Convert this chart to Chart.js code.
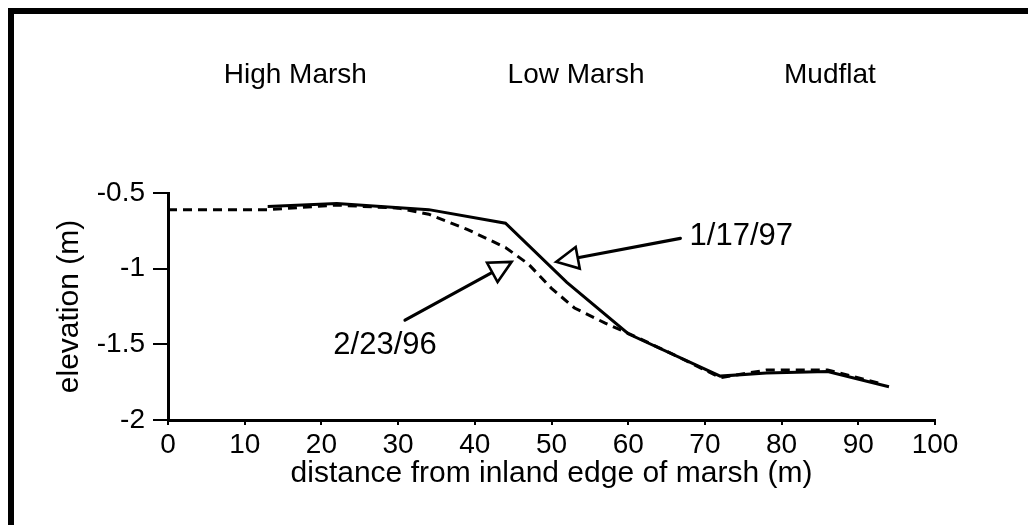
<!DOCTYPE html>
<html>
<head>
<meta charset="utf-8">
<script src="https://cdn.jsdelivr.net/npm/chart.js@4.4.0/dist/chart.umd.min.js"></script>
<style>
  html, body { margin: 0; padding: 0; background: #fff; }
  #wrap { width: 1028px; height: 525px; position: relative; }
</style>
</head>
<body>
<div id="wrap"><canvas id="profile"></canvas></div>
<script>
// Marsh elevation profile surveys
const distance97  = [13, 22, 34, 44, 52, 60, 72, 78, 86, 94];
const elevation97 = [-0.59, -0.57, -0.61, -0.70, -1.09, -1.43, -1.71, -1.69, -1.68, -1.78];

const distance96  = [0, 13, 22, 30, 34, 39, 44, 47, 50, 53, 57, 61, 66, 72, 78, 86, 93];
const elevation96 = [-0.61, -0.61, -0.58, -0.60, -0.64, -0.74, -0.86, -0.97, -1.13, -1.26, -1.36, -1.45, -1.57, -1.72, -1.67, -1.67, -1.76];

const seriesNames = ['1/17/97', '2/23/96'];
const zoneNames   = ['High Marsh', 'Low Marsh', 'Mudflat'];
const zoneCenters = [16.6, 53.2, 86.3];

const xTickValues = [0, 10, 20, 30, 40, 50, 60, 70, 80, 90, 100];
const yTickValues = [-2, -1.5, -1, -0.5];

const FONT = '"Liberation Sans", Arial, Helvetica, sans-serif';
const TICK_FS = 28, TITLE_FS = 30, NOTE_FS = 31, ZONE_FS = 28;

const toPoints = (xs, ys) => xs.map((x, i) => ({ x, y: ys[i] }));

// Callout arrows: tail and tip in data units, label anchor in data units
const callouts = [
  { text: seriesNames[0], tail: [66.8, -0.80], tip: [50.6, -0.955], label: [68.0, -0.79], align: 'left' },
  { text: seriesNames[1], tail: [30.9, -1.34], tip: [44.8, -0.955], label: [28.3, -1.51], align: 'center' }
];

const decorPlugin = {
  id: 'decor',
  afterDraw(chart) {
    const ctx = chart.ctx;
    const xs = chart.scales.x, ys = chart.scales.y;
    ctx.save();
    // frame edges
    ctx.fillStyle = '#000';
    ctx.fillRect(8, 8, 1020, 6);
    ctx.fillRect(8, 8, 6, 517);

    // zone labels
    ctx.font = ZONE_FS + 'px ' + FONT;
    ctx.textAlign = 'center';
    ctx.textBaseline = 'middle';
    zoneNames.forEach((n, i) => {
      ctx.fillText(n, xs.getPixelForValue(zoneCenters[i]), chart.chartArea.top - 118);
    });

    // callouts
    ctx.font = NOTE_FS + 'px ' + FONT;
    callouts.forEach(c => {
      const tx = xs.getPixelForValue(c.tail[0]), ty = ys.getPixelForValue(c.tail[1]);
      const px = xs.getPixelForValue(c.tip[0]),  py = ys.getPixelForValue(c.tip[1]);
      const ang = Math.atan2(py - ty, px - tx);
      const headLen = 22, headHalf = 11;
      const bx = px - headLen * Math.cos(ang), by = py - headLen * Math.sin(ang);
      ctx.strokeStyle = '#000';
      ctx.lineWidth = 3.2;
      ctx.lineCap = 'round';
      ctx.beginPath();
      ctx.moveTo(tx, ty);
      ctx.lineTo(bx, by);
      ctx.stroke();
      ctx.beginPath();
      ctx.moveTo(px, py);
      ctx.lineTo(bx + headHalf * Math.sin(ang), by - headHalf * Math.cos(ang));
      ctx.lineTo(bx - headHalf * Math.sin(ang), by + headHalf * Math.cos(ang));
      ctx.closePath();
      ctx.fillStyle = '#fff';
      ctx.fill();
      ctx.lineWidth = 2.6;
      ctx.lineJoin = 'miter';
      ctx.stroke();
      ctx.fillStyle = '#000';
      ctx.textAlign = c.align;
      ctx.fillText(c.text, xs.getPixelForValue(c.label[0]), ys.getPixelForValue(c.label[1]));
    });
    ctx.restore();
  }
};

new Chart(document.getElementById('profile'), {
  type: 'scatter',
  data: {
    datasets: [
      {
        label: seriesNames[0],
        data: toPoints(distance97, elevation97),
        showLine: true,
        borderColor: '#000',
        borderWidth: 3,
        pointRadius: 0,
        tension: 0
      },
      {
        label: seriesNames[1],
        data: toPoints(distance96, elevation96),
        showLine: true,
        borderColor: '#000',
        borderWidth: 3,
        borderDash: [9, 6],
        pointRadius: 0,
        tension: 0
      }
    ]
  },
  options: {
    responsive: true,
    maintainAspectRatio: false,
    devicePixelRatio: 1,
    animation: false,
    layout: { padding: { top: 193, right: 93, left: 0, bottom: 0 } },
    plugins: { legend: { display: false }, tooltip: { enabled: false } },
    scales: {
      x: {
        type: 'linear',
        min: 0, max: 100,
        afterFit(s) { s.height = 105; },
        afterBuildTicks(s) { s.ticks = xTickValues.map(v => ({ value: v })); },
        border: { display: true, color: '#000', width: 3 },
        grid: { drawOnChartArea: false, drawTicks: true, tickLength: 5, color: '#000', lineWidth: 2 },
        ticks: { color: '#000', padding: 3, font: { family: FONT, size: TICK_FS } },
        title: { display: true, text: 'distance from inland edge of marsh (m)', color: '#000',
                 font: { family: FONT, size: TITLE_FS }, padding: { bottom: 33 } }
      },
      y: {
        type: 'linear',
        min: -2, max: -0.5,
        afterFit(s) { s.width = 168; },
        afterBuildTicks(s) { s.ticks = yTickValues.map(v => ({ value: v })); },
        border: { display: true, color: '#000', width: 3 },
        grid: { drawOnChartArea: false, drawTicks: true, tickLength: 15, color: '#000', lineWidth: 2 },
        ticks: { color: '#000', padding: 8, font: { family: FONT, size: TICK_FS },
                 callback: v => String(v) },
        title: { display: true, text: 'elevation (m)', color: '#000',
                 font: { family: FONT, size: TITLE_FS }, padding: { top: 52 } }
      }
    }
  },
  plugins: [decorPlugin]
});
</script>
</body>
</html>
